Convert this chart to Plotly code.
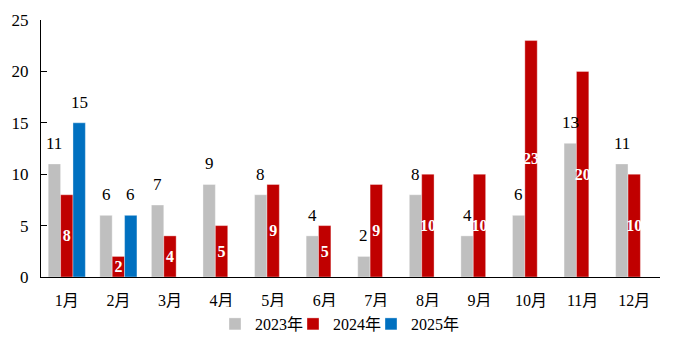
import plotly.graph_objects as go

months = ["1月", "2月", "3月", "4月", "5月", "6月", "7月", "8月", "9月", "10月", "11月", "12月"]
v2023 = [11, 6, 7, 9, 8, 4, 2, 8, 4, 6, 13, 11]
v2024 = [8, 2, 4, 5, 9, 5, 9, 10, 10, 23, 20, 10]
v2025 = [15, 6, None, None, None, None, None, None, None, None, None, None]
y_ticks = [0, 5, 10, 15, 20, 25]

C23, C24, C25 = "#BFBFBF", "#C00000", "#0070C0"
FONT = "Liberation Serif, Noto Sans CJK SC"

W, H = 700, 341
ML, MR, MT, MB = 41, 40, 20, 64
BARGAP = 0.28

fig = go.Figure()
line = dict(width=0.6, color="rgba(255,255,255,0.6)")
fig.add_bar(x=months, y=v2023, name="2023年", marker=dict(color=C23, line=line))
fig.add_bar(x=months, y=v2024, name="2024年", marker=dict(color=C24, line=line),
            text=v2024, textposition="inside", insidetextanchor="middle",
            constraintext="none", textangle=0,
            textfont=dict(color="white", size=16, family=FONT, weight="bold"))
fig.add_bar(x=months, y=v2025, name="2025年", marker=dict(color=C25, line=line))
# empty spacer entry so the last legend label is not clipped
fig.add_scatter(x=[None], y=[None], name=" ", mode="markers",
                marker=dict(color="rgba(0,0,0,0)"), hoverinfo="skip")

slot = (W - ML - MR) / len(months) * (1 - BARGAP) / 3
for vals, shift in ((v2023, -slot), (v2025, slot)):
    for m, v in zip(months, vals):
        if v is None:
            continue
        fig.add_annotation(x=m, y=v, text=str(v), showarrow=False, xref="x", yref="y",
                           xshift=shift, yshift=9, yanchor="bottom",
                           font=dict(size=17, color="black", family=FONT))

fig.update_layout(
    width=W, height=H, margin=dict(l=ML, r=MR, t=MT, b=MB, autoexpand=False),
    barmode="group", bargap=BARGAP, bargroupgap=0,
    plot_bgcolor="white", paper_bgcolor="white",
    font=dict(family=FONT, size=16, color="black"),
    showlegend=True,
    legend=dict(orientation="h", x=215 / W, xanchor="left", xref="container",
                y=17 / H, yanchor="middle", yref="container",
                font=dict(size=16, family=FONT), itemwidth=30, tracegroupgap=0,
                entrywidth=33, entrywidthmode="pixels", traceorder="normal"),
)
fig.update_xaxes(showline=True, linecolor="black", linewidth=1.2, ticks="",
                 tickfont=dict(size=16), ticklabelstandoff=9)
fig.update_yaxes(range=[0, 25], tickvals=y_ticks, showline=True, linecolor="black",
                 linewidth=1.2, ticks="inside", ticklen=6, tickcolor="black",
                 showgrid=False, zeroline=False, tickfont=dict(size=17),
                 ticklabelstandoff=8)

fig.write_html("out.html")
